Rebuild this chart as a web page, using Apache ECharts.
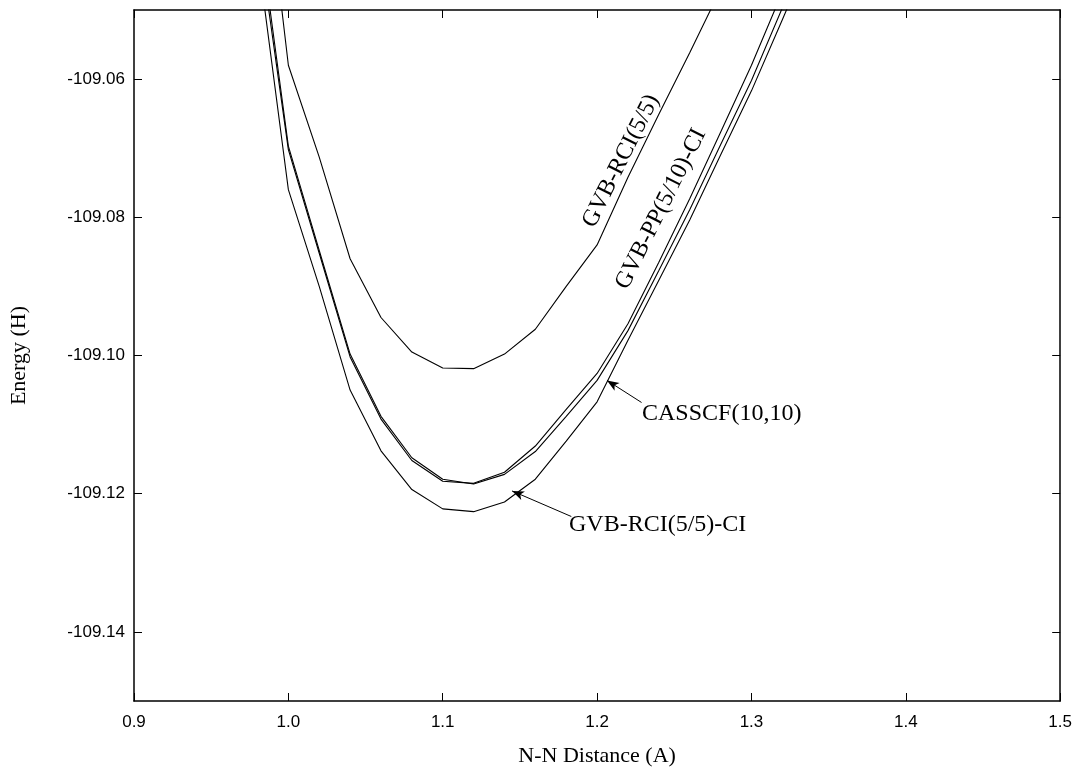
<!DOCTYPE html>
<html>
<head>
<meta charset="utf-8">
<title>N-N Energy</title>
<script src="https://cdn.jsdelivr.net/npm/echarts@6/dist/echarts.min.js"></script>
<style>
  html, body { margin: 0; padding: 0; background: #fff; }
  #energy-chart { width: 1075px; height: 772px; }
</style>
</head>
<body>
<div id="energy-chart"></div>
<script>
// N-N distance (A), one point every 0.02
const distances = [0.98, 1.00, 1.02, 1.04, 1.06, 1.08, 1.10, 1.12, 1.14, 1.16,
                   1.18, 1.20, 1.22, 1.24, 1.26, 1.28, 1.30, 1.32, 1.34];

// energies (H)
const gvbRci = [-109.0200, -109.0580, -109.0713, -109.0860, -109.0945, -109.0995, -109.1018, -109.1019, -109.0998, -109.0962,
                -109.0900, -109.0840, -109.0742, -109.0651, -109.0562, -109.0470, null, null, null];
const gvbPpCi = [-109.0384, -109.0702, -109.0852, -109.1002, -109.1092, -109.1152, -109.1182, -109.1185, -109.1169, -109.1131,
                 -109.1078, -109.1026, -109.0954, -109.0865, -109.0773, -109.0677, -109.0580, -109.0474, null];
const casscf = [-109.0364, -109.0697, -109.0848, -109.0998, -109.1088, -109.1148, -109.1179, -109.1186, -109.1172, -109.1139,
                -109.1088, -109.1036, -109.0964, -109.0877, -109.0789, -109.0695, -109.0602, -109.0497, null];
const gvbRciCi = [-109.0418, -109.0760, -109.0900, -109.1050, -109.1138, -109.1194, -109.1222, -109.1226, -109.1212, -109.1179,
                  -109.1124, -109.1067, -109.0978, -109.0891, -109.0804, -109.0710, -109.0617, -109.0514, -109.0410];

const yTicks = [-109.14, -109.12, -109.10, -109.08, -109.06];

// arrow annotations: [tail, tip] in data coords
const casscfArrow = [[1.2288, -109.1068], [1.2064, -109.1036]];
const rciCiArrow = [[1.1833, -109.1233], [1.1449, -109.1196]];

const serif = '"Liberation Serif", "Times New Roman", serif';
const sans = '"Liberation Sans", Arial, sans-serif';

const toPoints = (ys) => distances.map((x, i) => [x, ys[i]]);

const lineSeries = (name, ys, arrow) => {
  const s = {
    name: name,
    type: 'line',
    data: toPoints(ys),
    showSymbol: false,
    symbol: 'none',
    connectNulls: false,
    clip: true,
    silent: true,
    lineStyle: { color: '#000', width: 1.1 }
  };
  if (arrow) {
    s.markLine = {
      silent: true,
      animation: false,
      symbol: ['none', 'arrow'],
      symbolSize: [7, 12],
      label: { show: false },
      lineStyle: { color: '#000', width: 1, type: 'solid' },
      data: [[{ coord: arrow[0] }, { coord: arrow[1] }]]
    };
  }
  return s;
};

const frameLine = { show: true, onZero: false, lineStyle: { color: '#000', width: 1.5 } };
const innerTick = { show: true, inside: true, length: 8, lineStyle: { color: '#000', width: 1 } };

const option = {
  animation: false,
  backgroundColor: '#fff',
  grid: { left: 127, right: 12, top: 10, bottom: 62 },
  xAxis: [
    {
      type: 'value', min: 0.9, max: 1.5, interval: 0.1,
      name: 'N-N Distance (A)', nameLocation: 'middle', nameGap: 44,
      nameTextStyle: { fontFamily: serif, fontSize: 22, color: '#000' },
      axisLine: frameLine, axisTick: innerTick, splitLine: { show: false },
      axisLabel: { color: '#000', fontFamily: sans, fontSize: 17, margin: 13,
        formatter: (v) => v.toFixed(1) }
    },
    {
      type: 'value', position: 'top', min: 0.9, max: 1.5, interval: 0.1,
      axisLine: frameLine, axisTick: innerTick, splitLine: { show: false },
      axisLabel: { show: false }
    }
  ],
  yAxis: [
    {
      type: 'value', min: -109.15, max: -109.05,
      name: 'Energy (H)', nameLocation: 'middle', nameGap: 104,
      nameTextStyle: { fontFamily: serif, fontSize: 22, color: '#000' },
      axisLine: frameLine, splitLine: { show: false },
      axisTick: Object.assign({ customValues: yTicks }, innerTick),
      axisLabel: { color: '#000', fontFamily: sans, fontSize: 17, margin: 9,
        customValues: yTicks, formatter: (v) => v.toFixed(2) }
    },
    {
      type: 'value', position: 'right', min: -109.15, max: -109.05,
      axisLine: frameLine, splitLine: { show: false },
      axisTick: Object.assign({ customValues: yTicks }, innerTick),
      axisLabel: { show: false }
    }
  ],
  series: [
    lineSeries('GVB-RCI(5/5)', gvbRci),
    lineSeries('GVB-PP(5/10)-CI', gvbPpCi),
    lineSeries('CASSCF(10,10)', casscf, casscfArrow),
    lineSeries('GVB-RCI(5/5)-CI', gvbRciCi, rciCiArrow)
  ],
  graphic: [
    {
      type: 'text', x: 621, y: 161, rotation: 63.5 * Math.PI / 180,
      style: { text: 'GVB-RCI(5/5)', font: '24px ' + serif, fill: '#000', align: 'center', verticalAlign: 'middle' }
    },
    {
      type: 'text', x: 661, y: 209, rotation: 63.5 * Math.PI / 180,
      style: { text: 'GVB-PP(5/10)-CI', font: '24px ' + serif, fill: '#000', align: 'center', verticalAlign: 'middle' }
    },
    {
      type: 'text', x: 642, y: 414,
      style: { text: 'CASSCF(10,10)', font: '24px ' + serif, fill: '#000', align: 'left', verticalAlign: 'middle' }
    },
    {
      type: 'text', x: 569, y: 525,
      style: { text: 'GVB-RCI(5/5)-CI', font: '24px ' + serif, fill: '#000', align: 'left', verticalAlign: 'middle' }
    }
  ]
};

const energyChart = echarts.init(document.getElementById('energy-chart'), null, { renderer: 'canvas' });
energyChart.setOption(option);
window.addEventListener('resize', () => energyChart.resize());
</script>
</body>
</html>
